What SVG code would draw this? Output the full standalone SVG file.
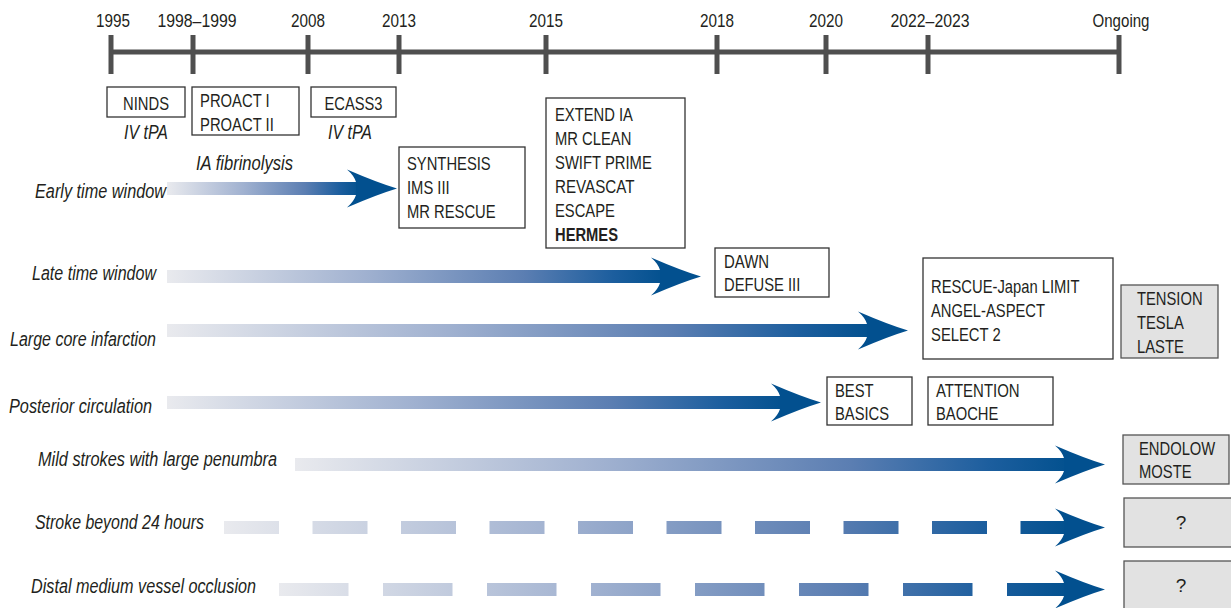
<svg xmlns="http://www.w3.org/2000/svg" width="1231" height="608" viewBox="0 0 1231 608">
<style>
text{font-family:"Liberation Sans Narrow","Liberation Sans",Arial,sans-serif;fill:#231f20}
.yr{font-size:19px;text-anchor:middle}
.bx{font-size:19px}
.c{text-anchor:middle}
.it{font-size:20.5px;font-style:italic}
.r{text-anchor:end}
.box{fill:#fff;stroke:#333;stroke-width:1.3}
.gbox{fill:#e2e2e2;stroke:#555;stroke-width:1.3}
.tl{stroke:#4f4f4f;stroke-width:5;fill:none}
.head{fill:#02508f}
</style>
<defs>
<linearGradient id="g" x1="0" y1="0" x2="1" y2="0">
<stop offset="0" stop-color="#e9eaee"/>
<stop offset="0.4" stop-color="#a0b1d0"/>
<stop offset="0.72" stop-color="#5b7eb2"/>
<stop offset="0.9" stop-color="#1c5e9e"/>
<stop offset="1" stop-color="#03518f"/>
</linearGradient>
<linearGradient id="gS" gradientUnits="userSpaceOnUse" x1="224" y1="0" x2="1066" y2="0">
<stop offset="0" stop-color="#e9eaee"/>
<stop offset="0.4" stop-color="#a0b1d0"/>
<stop offset="0.72" stop-color="#5b7eb2"/>
<stop offset="0.9" stop-color="#1c5e9e"/>
<stop offset="1" stop-color="#03518f"/>
</linearGradient>
<linearGradient id="gD" gradientUnits="userSpaceOnUse" x1="279" y1="0" x2="1066" y2="0">
<stop offset="0" stop-color="#e9eaee"/>
<stop offset="0.4" stop-color="#a0b1d0"/>
<stop offset="0.72" stop-color="#5b7eb2"/>
<stop offset="0.9" stop-color="#1c5e9e"/>
<stop offset="1" stop-color="#03518f"/>
</linearGradient>
<path id="ah" class="head" d="M-41,-6.5 Q-43,-13 -50,-19 Q-20,-6 0,0 Q-20,6 -50,19 Q-43,13 -41,6.5 Z"/>
</defs>

<g id="timeline">
<line class="tl" x1="111" y1="52" x2="1119" y2="52"/>
<g class="tl">
<line x1="111" y1="35" x2="111" y2="74"/>
<line x1="193" y1="35" x2="193" y2="74"/>
<line x1="308" y1="35" x2="308" y2="74"/>
<line x1="399" y1="35" x2="399" y2="74"/>
<line x1="546" y1="35" x2="546" y2="74"/>
<line x1="717" y1="35" x2="717" y2="74"/>
<line x1="826" y1="35" x2="826" y2="74"/>
<line x1="928" y1="35" x2="928" y2="74"/>
<line x1="1119" y1="35" x2="1119" y2="74"/>
</g>
<text class="yr" x="113" y="27" textLength="34" lengthAdjust="spacingAndGlyphs">1995</text>
<text class="yr" x="197" y="27" textLength="79" lengthAdjust="spacingAndGlyphs">1998–1999</text>
<text class="yr" x="308" y="27" textLength="34" lengthAdjust="spacingAndGlyphs">2008</text>
<text class="yr" x="399" y="27" textLength="34" lengthAdjust="spacingAndGlyphs">2013</text>
<text class="yr" x="546" y="27" textLength="34" lengthAdjust="spacingAndGlyphs">2015</text>
<text class="yr" x="717" y="27" textLength="34" lengthAdjust="spacingAndGlyphs">2018</text>
<text class="yr" x="826" y="27" textLength="34" lengthAdjust="spacingAndGlyphs">2020</text>
<text class="yr" x="930" y="27" textLength="79" lengthAdjust="spacingAndGlyphs">2022–2023</text>
<text class="yr" x="1121" y="27" textLength="57" lengthAdjust="spacingAndGlyphs">Ongoing</text>
</g>

<g id="connectors">
<g id="arrow-early">
<rect x="167" y="182" width="192" height="13" fill="url(#g)"/>
<use href="#ah" x="397" y="188.5"/>
</g>
<g id="arrow-late">
<rect x="167" y="270" width="496" height="13" fill="url(#g)"/>
<use href="#ah" x="701" y="276.5"/>
</g>
<g id="arrow-large">
<rect x="167" y="324" width="703" height="13" fill="url(#g)"/>
<use href="#ah" x="908" y="330.5"/>
</g>
<g id="arrow-posterior">
<rect x="167" y="396" width="617" height="13" fill="url(#g)"/>
<use href="#ah" x="821" y="402.5"/>
</g>
<g id="arrow-mild">
<rect x="295" y="458" width="772" height="13" fill="url(#g)"/>
<use href="#ah" x="1105" y="464.5"/>
</g>
<g id="arrow-beyond24">
<line x1="224" y1="527.5" x2="1067" y2="527.5" stroke="url(#gS)" stroke-width="13" stroke-dasharray="55 33.5"/>
<use href="#ah" x="1105" y="527.5"/>
</g>
<g id="arrow-distal">
<line x1="279" y1="589.5" x2="1067" y2="589.5" stroke="url(#gD)" stroke-width="13" stroke-dasharray="69.5 34.5"/>
<use href="#ah" x="1105" y="589.5"/>
</g>
</g>

<g id="row-labels">
<text class="it r" x="166" y="198" textLength="131" lengthAdjust="spacingAndGlyphs">Early time window</text>
<text class="it r" x="156" y="280" textLength="124" lengthAdjust="spacingAndGlyphs">Late time window</text>
<text class="it r" x="156" y="346" textLength="146" lengthAdjust="spacingAndGlyphs">Large core infarction</text>
<text class="it r" x="152" y="413" textLength="143" lengthAdjust="spacingAndGlyphs">Posterior circulation</text>
<text class="it" x="38" y="466" textLength="239" lengthAdjust="spacingAndGlyphs">Mild strokes with large penumbra</text>
<text class="it" x="35" y="529" textLength="169" lengthAdjust="spacingAndGlyphs">Stroke beyond 24 hours</text>
<text class="it" x="31" y="593" textLength="225" lengthAdjust="spacingAndGlyphs">Distal medium vessel occlusion</text>
<text class="it c" x="146" y="139" textLength="44" lengthAdjust="spacingAndGlyphs">IV tPA</text>
<text class="it c" x="350" y="139" textLength="44" lengthAdjust="spacingAndGlyphs">IV tPA</text>
<text class="it" x="196" y="170" textLength="97" lengthAdjust="spacingAndGlyphs">IA fibrinolysis</text>
</g>

<g id="node-ninds">
<rect class="box" x="107" y="87" width="78" height="30"/>
<text class="bx c" x="146" y="110" textLength="46" lengthAdjust="spacingAndGlyphs">NINDS</text>
</g>
<g id="node-proact">
<rect class="box" x="192" y="87" width="107" height="48"/>
<text class="bx" x="200" y="107" textLength="69.7" lengthAdjust="spacingAndGlyphs">PROACT I</text>
<text class="bx" x="200" y="131" textLength="73.8" lengthAdjust="spacingAndGlyphs">PROACT II</text>
</g>
<g id="node-ecass3">
<rect class="box" x="311" y="87" width="85" height="30"/>
<text class="bx c" x="353.5" y="110" textLength="58" lengthAdjust="spacingAndGlyphs">ECASS3</text>
</g>
<g id="node-synthesis">
<rect class="box" x="399" y="147" width="126" height="81"/>
<text class="bx" x="407" y="170" textLength="83.7" lengthAdjust="spacingAndGlyphs">SYNTHESIS</text>
<text class="bx" x="407" y="194" textLength="42.7" lengthAdjust="spacingAndGlyphs">IMS III</text>
<text class="bx" x="407" y="218" textLength="88.6" lengthAdjust="spacingAndGlyphs">MR RESCUE</text>
</g>
<g id="node-extend">
<rect class="box" x="546" y="98" width="139" height="150"/>
<text class="bx" x="555" y="121" textLength="77.9" lengthAdjust="spacingAndGlyphs">EXTEND IA</text>
<text class="bx" x="555" y="145" textLength="76.3" lengthAdjust="spacingAndGlyphs">MR CLEAN</text>
<text class="bx" x="555" y="169" textLength="96.8" lengthAdjust="spacingAndGlyphs">SWIFT PRIME</text>
<text class="bx" x="555" y="193" textLength="79.6" lengthAdjust="spacingAndGlyphs">REVASCAT</text>
<text class="bx" x="555" y="217" textLength="59.9" lengthAdjust="spacingAndGlyphs">ESCAPE</text>
<text class="bx" x="555" y="241" font-weight="bold" textLength="63" lengthAdjust="spacingAndGlyphs">HERMES</text>
</g>
<g id="node-dawn">
<rect class="box" x="715" y="248" width="114" height="49"/>
<text class="bx" x="724" y="268" textLength="45.1" lengthAdjust="spacingAndGlyphs">DAWN</text>
<text class="bx" x="724" y="291" textLength="76.3" lengthAdjust="spacingAndGlyphs">DEFUSE III</text>
</g>
<g id="node-rescue">
<rect class="box" x="923" y="258" width="190" height="101"/>
<text class="bx" x="931" y="293" textLength="148.5" lengthAdjust="spacingAndGlyphs">RESCUE-Japan LIMIT</text>
<text class="bx" x="931" y="317" textLength="114" lengthAdjust="spacingAndGlyphs">ANGEL-ASPECT</text>
<text class="bx" x="931" y="341" textLength="69.7" lengthAdjust="spacingAndGlyphs">SELECT 2</text>
</g>
<g id="node-tension">
<rect class="gbox" x="1121" y="285" width="97" height="73"/>
<text class="bx" x="1137" y="305" textLength="65.6" lengthAdjust="spacingAndGlyphs">TENSION</text>
<text class="bx" x="1137" y="329" textLength="46.8" lengthAdjust="spacingAndGlyphs">TESLA</text>
<text class="bx" x="1137" y="353" textLength="46.8" lengthAdjust="spacingAndGlyphs">LASTE</text>
</g>
<g id="node-best">
<rect class="box" x="827" y="377" width="85" height="48"/>
<text class="bx" x="835" y="397" textLength="38.6" lengthAdjust="spacingAndGlyphs">BEST</text>
<text class="bx" x="835" y="420" textLength="54.1" lengthAdjust="spacingAndGlyphs">BASICS</text>
</g>
<g id="node-attention">
<rect class="box" x="928" y="377" width="125" height="48"/>
<text class="bx" x="936" y="397" textLength="83.6" lengthAdjust="spacingAndGlyphs">ATTENTION</text>
<text class="bx" x="936" y="420" textLength="62.3" lengthAdjust="spacingAndGlyphs">BAOCHE</text>
</g>
<g id="node-endolow">
<rect class="gbox" x="1123" y="435" width="106" height="49"/>
<text class="bx" x="1139" y="455" textLength="76.3" lengthAdjust="spacingAndGlyphs">ENDOLOW</text>
<text class="bx" x="1139" y="478" textLength="52.5" lengthAdjust="spacingAndGlyphs">MOSTE</text>
</g>
<g id="node-q1">
<rect class="gbox" x="1124" y="498" width="116" height="49"/>
<text class="bx c" x="1181" y="529">?</text>
</g>
<g id="node-q2">
<rect class="gbox" x="1124" y="561" width="116" height="60"/>
<text class="bx c" x="1181" y="592">?</text>
</g>
</svg>
